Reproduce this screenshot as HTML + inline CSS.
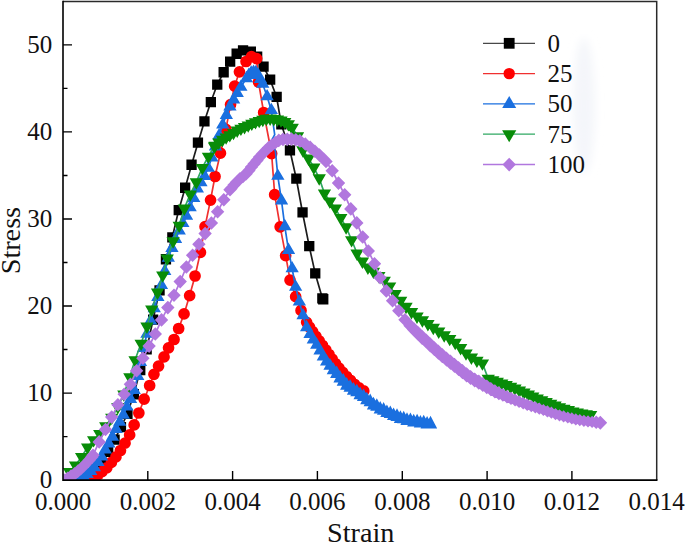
<!DOCTYPE html>
<html lang="en">
<head>
<meta charset="utf-8">
<title>Stress-Strain curves</title>
<style>
html,body{margin:0;padding:0;background:#fff;}
body{width:685px;height:546px;overflow:hidden;font-family:"Liberation Serif",serif;}
svg{display:block;}
</style>
</head>
<body>
<svg width="685" height="546" viewBox="0 0 685 546">
<rect width="685" height="546" fill="#fff"/>
<defs><filter id="b" x="-50%" y="-20%" width="200%" height="140%"><feGaussianBlur stdDeviation="4"/></filter></defs>
<ellipse cx="584" cy="106" rx="11" ry="68" fill="#f4f6fa" filter="url(#b)"/>
<clipPath id="c"><rect x="63" y="1.5" width="593.7" height="478.6"/></clipPath><g clip-path="url(#c)">
<path d="M63 480L69.4 479.7L75.9 478.9L82.4 476.8L88.9 473.7L95.3 469L101.7 462.7L108.2 451.9L114.6 439.6L121 427.1L127.4 413.8L133.8 394.3L140.3 370.1L146.7 349.2L153.1 319.5L159.5 290.5L165.9 259.3L172.3 237.3L178.7 210.2L185.2 187.7L191.6 164.7L198 142.7L204.4 121.4L210.8 102L217.3 84.5L223.7 72.2L230.1 61.7L236.6 53.8L243 50.5L250.8 51.8L257.2 56.8L263.5 66.5L270.1 79.6L276.6 97L281.3 124.3L289.9 150.3L296.3 178.7L302.5 212.5L309.2 246.2L315.2 273.4L322.4 298.3L323.2 299.2" fill="none" stroke="#1c1c1c" stroke-width="1.7" stroke-linejoin="round"/>
<path d="M57.9 474.9h10.3v10.3h-10.3zM64.3 474.5h10.3v10.3h-10.3zM70.8 473.7h10.3v10.3h-10.3zM77.3 471.7h10.3v10.3h-10.3zM83.8 468.6h10.3v10.3h-10.3zM90.2 463.9h10.3v10.3h-10.3zM96.6 457.5h10.3v10.3h-10.3zM103 446.8h10.3v10.3h-10.3zM109.4 434.4h10.3v10.3h-10.3zM115.8 422h10.3v10.3h-10.3zM122.3 408.7h10.3v10.3h-10.3zM128.7 389.1h10.3v10.3h-10.3zM135.1 365h10.3v10.3h-10.3zM141.5 344.1h10.3v10.3h-10.3zM148 314.4h10.3v10.3h-10.3zM154.4 285.3h10.3v10.3h-10.3zM160.8 254.1h10.3v10.3h-10.3zM167.2 232.2h10.3v10.3h-10.3zM173.6 205h10.3v10.3h-10.3zM180 182.6h10.3v10.3h-10.3zM186.4 159.6h10.3v10.3h-10.3zM192.8 137.5h10.3v10.3h-10.3zM199.3 116.2h10.3v10.3h-10.3zM205.7 96.9h10.3v10.3h-10.3zM212.1 79.4h10.3v10.3h-10.3zM218.5 67.1h10.3v10.3h-10.3zM225 56.5h10.3v10.3h-10.3zM231.5 48.6h10.3v10.3h-10.3zM237.9 45.3h10.3v10.3h-10.3zM245.7 46.6h10.3v10.3h-10.3zM252 51.6h10.3v10.3h-10.3zM258.4 61.4h10.3v10.3h-10.3zM265 74.4h10.3v10.3h-10.3zM271.5 91.8h10.3v10.3h-10.3zM276.2 119.1h10.3v10.3h-10.3zM284.8 145.2h10.3v10.3h-10.3zM291.2 173.5h10.3v10.3h-10.3zM297.4 207.3h10.3v10.3h-10.3zM304.1 241h10.3v10.3h-10.3zM310.1 268.2h10.3v10.3h-10.3zM317.2 293.2h10.3v10.3h-10.3zM318.1 294.1h10.3v10.3h-10.3z" fill="#000000"/>
<path d="M90 478.5L94.8 476.2L98.5 474.3L102.1 471.6L106.7 467.9L111.3 462.4L115.9 456.9L120.4 450.5L125 443.2L129.6 434.9L134.2 424.9L138.8 413L144.2 399.2L149.7 385.5L153.9 374.3L158.5 366.1L164 356.9L168.5 347.8L174 339.5L178.6 328.5L184.1 313.9L189.6 295.6L195.1 276L200.4 252.3L205 226.7L210.5 200.1L215 176.5L220.4 153.2L225.9 129.4L230.5 104.6L234.6 86.2L239.4 71.8L246 61.5L251.4 56.6L256.6 58.6L258.5 82L263.7 112.5L271.6 153.6L274.7 194.7L280.2 226.8L285.7 255.7L290.1 280.2L295.6 296.7L301.1 310.4L306.6 322.3L309.6 327.1L312.7 331.7L315.9 336.3L319.2 340.9L322.6 345.4L325.8 350L329.1 354.5L332.3 359.2L335.6 363.7L339 368.1L342.7 372.4L346.6 376.5L350.6 380.4L354.7 384.3L359 387.8L363.7 390.9" fill="none" stroke="#f03030" stroke-width="1.7" stroke-linejoin="round"/>
<path d="M84.2 478.5a5.8 5.8 0 1 0 11.7 0a5.8 5.8 0 1 0 -11.7 0zM89 476.2a5.8 5.8 0 1 0 11.7 0a5.8 5.8 0 1 0 -11.7 0zM92.7 474.3a5.8 5.8 0 1 0 11.7 0a5.8 5.8 0 1 0 -11.7 0zM96.2 471.6a5.8 5.8 0 1 0 11.7 0a5.8 5.8 0 1 0 -11.7 0zM100.9 467.9a5.8 5.8 0 1 0 11.7 0a5.8 5.8 0 1 0 -11.7 0zM105.5 462.4a5.8 5.8 0 1 0 11.7 0a5.8 5.8 0 1 0 -11.7 0zM110.1 456.9a5.8 5.8 0 1 0 11.7 0a5.8 5.8 0 1 0 -11.7 0zM114.6 450.5a5.8 5.8 0 1 0 11.7 0a5.8 5.8 0 1 0 -11.7 0zM119.2 443.2a5.8 5.8 0 1 0 11.7 0a5.8 5.8 0 1 0 -11.7 0zM123.8 434.9a5.8 5.8 0 1 0 11.7 0a5.8 5.8 0 1 0 -11.7 0zM128.3 424.9a5.8 5.8 0 1 0 11.7 0a5.8 5.8 0 1 0 -11.7 0zM133 413a5.8 5.8 0 1 0 11.7 0a5.8 5.8 0 1 0 -11.7 0zM138.3 399.2a5.8 5.8 0 1 0 11.7 0a5.8 5.8 0 1 0 -11.7 0zM143.8 385.5a5.8 5.8 0 1 0 11.7 0a5.8 5.8 0 1 0 -11.7 0zM148.1 374.3a5.8 5.8 0 1 0 11.7 0a5.8 5.8 0 1 0 -11.7 0zM152.7 366.1a5.8 5.8 0 1 0 11.7 0a5.8 5.8 0 1 0 -11.7 0zM158.2 356.9a5.8 5.8 0 1 0 11.7 0a5.8 5.8 0 1 0 -11.7 0zM162.7 347.8a5.8 5.8 0 1 0 11.7 0a5.8 5.8 0 1 0 -11.7 0zM168.2 339.5a5.8 5.8 0 1 0 11.7 0a5.8 5.8 0 1 0 -11.7 0zM172.8 328.5a5.8 5.8 0 1 0 11.7 0a5.8 5.8 0 1 0 -11.7 0zM178.2 313.9a5.8 5.8 0 1 0 11.7 0a5.8 5.8 0 1 0 -11.7 0zM183.8 295.6a5.8 5.8 0 1 0 11.7 0a5.8 5.8 0 1 0 -11.7 0zM189.2 276a5.8 5.8 0 1 0 11.7 0a5.8 5.8 0 1 0 -11.7 0zM194.6 252.3a5.8 5.8 0 1 0 11.7 0a5.8 5.8 0 1 0 -11.7 0zM199.2 226.7a5.8 5.8 0 1 0 11.7 0a5.8 5.8 0 1 0 -11.7 0zM204.7 200.1a5.8 5.8 0 1 0 11.7 0a5.8 5.8 0 1 0 -11.7 0zM209.2 176.5a5.8 5.8 0 1 0 11.7 0a5.8 5.8 0 1 0 -11.7 0zM214.6 153.2a5.8 5.8 0 1 0 11.7 0a5.8 5.8 0 1 0 -11.7 0zM220.1 129.4a5.8 5.8 0 1 0 11.7 0a5.8 5.8 0 1 0 -11.7 0zM224.7 104.6a5.8 5.8 0 1 0 11.7 0a5.8 5.8 0 1 0 -11.7 0zM228.8 86.2a5.8 5.8 0 1 0 11.7 0a5.8 5.8 0 1 0 -11.7 0zM233.6 71.8a5.8 5.8 0 1 0 11.7 0a5.8 5.8 0 1 0 -11.7 0zM240.2 61.5a5.8 5.8 0 1 0 11.7 0a5.8 5.8 0 1 0 -11.7 0zM245.6 56.6a5.8 5.8 0 1 0 11.7 0a5.8 5.8 0 1 0 -11.7 0zM250.8 58.6a5.8 5.8 0 1 0 11.7 0a5.8 5.8 0 1 0 -11.7 0zM252.7 82a5.8 5.8 0 1 0 11.7 0a5.8 5.8 0 1 0 -11.7 0zM257.8 112.5a5.8 5.8 0 1 0 11.7 0a5.8 5.8 0 1 0 -11.7 0zM265.8 153.6a5.8 5.8 0 1 0 11.7 0a5.8 5.8 0 1 0 -11.7 0zM268.8 194.7a5.8 5.8 0 1 0 11.7 0a5.8 5.8 0 1 0 -11.7 0zM274.3 226.8a5.8 5.8 0 1 0 11.7 0a5.8 5.8 0 1 0 -11.7 0zM279.8 255.7a5.8 5.8 0 1 0 11.7 0a5.8 5.8 0 1 0 -11.7 0zM284.2 280.2a5.8 5.8 0 1 0 11.7 0a5.8 5.8 0 1 0 -11.7 0zM289.8 296.7a5.8 5.8 0 1 0 11.7 0a5.8 5.8 0 1 0 -11.7 0zM295.2 310.4a5.8 5.8 0 1 0 11.7 0a5.8 5.8 0 1 0 -11.7 0zM300.8 322.3a5.8 5.8 0 1 0 11.7 0a5.8 5.8 0 1 0 -11.7 0zM303.7 327.1a5.8 5.8 0 1 0 11.7 0a5.8 5.8 0 1 0 -11.7 0zM306.8 331.7a5.8 5.8 0 1 0 11.7 0a5.8 5.8 0 1 0 -11.7 0zM310.1 336.3a5.8 5.8 0 1 0 11.7 0a5.8 5.8 0 1 0 -11.7 0zM313.4 340.9a5.8 5.8 0 1 0 11.7 0a5.8 5.8 0 1 0 -11.7 0zM316.7 345.4a5.8 5.8 0 1 0 11.7 0a5.8 5.8 0 1 0 -11.7 0zM320 350a5.8 5.8 0 1 0 11.7 0a5.8 5.8 0 1 0 -11.7 0zM323.2 354.5a5.8 5.8 0 1 0 11.7 0a5.8 5.8 0 1 0 -11.7 0zM326.4 359.2a5.8 5.8 0 1 0 11.7 0a5.8 5.8 0 1 0 -11.7 0zM329.7 363.7a5.8 5.8 0 1 0 11.7 0a5.8 5.8 0 1 0 -11.7 0zM333.2 368.1a5.8 5.8 0 1 0 11.7 0a5.8 5.8 0 1 0 -11.7 0zM336.9 372.4a5.8 5.8 0 1 0 11.7 0a5.8 5.8 0 1 0 -11.7 0zM340.7 376.5a5.8 5.8 0 1 0 11.7 0a5.8 5.8 0 1 0 -11.7 0zM344.7 380.4a5.8 5.8 0 1 0 11.7 0a5.8 5.8 0 1 0 -11.7 0zM348.8 384.3a5.8 5.8 0 1 0 11.7 0a5.8 5.8 0 1 0 -11.7 0zM353.2 387.8a5.8 5.8 0 1 0 11.7 0a5.8 5.8 0 1 0 -11.7 0zM357.9 390.9a5.8 5.8 0 1 0 11.7 0a5.8 5.8 0 1 0 -11.7 0z" fill="#ff0000"/>
<path d="M76 479.3L79.7 477.8L83.4 476.4L87 474.3L90.7 471.1L94.3 467.4L97.9 462.3L101.5 456.8L105.2 449.8L108.8 443.7L112.4 436.9L116.1 429.2L119.7 422L123.3 414.9L126.9 406.6L130.5 399.1L134.2 390.3L137.7 376.2L140.4 362.1L143.5 348.1L146.9 334L150.6 320.6L154.2 308.4L157.8 297.1L161.4 285.3L164.7 271.2L168.3 257.9L171.9 248.1L175.5 239.2L179.2 230.8L182.8 223.3L186.5 216L190.1 207.5L193.7 198.3L197.3 188.6L200.9 182.4L204.6 176.1L208.2 168L211.8 157.7L215.4 146.7L219.1 135.5L222.7 124.8L226.3 115.1L229.9 106.6L233.6 99.6L237.2 93.1L240.8 87L246.4 78.4L248.8 75.2L251.2 72.8L253.5 72.2L255.9 72.4L258.2 75.2L260.4 79.3L262.7 84L267.1 96.5L271.3 110.3L274.7 134.7L270.3 143L275.4 150.8L277.8 176L281.5 200.7L284.8 226.4L288.5 250.2L292.1 268.5L295.6 287L299.3 301.8L303 315.5L306.6 327.4L310 334.1L313.3 339.7L316.7 344.9L320 350.7L323.3 356.6L326.6 361.6L330 365.8L333.3 370.3L336.7 373.9L340 378.4L343.3 381.5L346.7 385.5L350.1 387.5L353.5 390.5L356.8 392.1L360.1 395L363.5 396.8L366.8 400.1L370.2 402L373.5 405.2L376.8 406.6L380.2 409.3L383.6 410.5L386.9 412.9L390.3 413.8L393.6 415.9L397 416.7L400.4 418.7L403.7 419.1L407 420.7L410.4 420.8L413.7 422.2L417.1 422.1L420.4 423.4L423.7 423.1L427.1 424.3L430.5 424.2" fill="none" stroke="#1a6fdf" stroke-width="1.7" stroke-linejoin="round"/>
<path d="M76 471.7l6.7 11.4h-13.3zM79.7 470.2l6.7 11.4h-13.3zM83.4 468.8l6.7 11.4h-13.3zM87 466.7l6.7 11.4h-13.3zM90.7 463.5l6.7 11.4h-13.3zM94.3 459.8l6.7 11.4h-13.3zM97.9 454.7l6.7 11.4h-13.3zM101.5 449.2l6.7 11.4h-13.3zM105.2 442.2l6.7 11.4h-13.3zM108.8 436.1l6.7 11.4h-13.3zM112.4 429.3l6.7 11.4h-13.3zM116.1 421.6l6.7 11.4h-13.3zM119.7 414.4l6.7 11.4h-13.3zM123.3 407.3l6.7 11.4h-13.3zM126.9 399l6.7 11.4h-13.3zM130.5 391.5l6.7 11.4h-13.3zM134.2 382.7l6.7 11.4h-13.3zM137.7 368.6l6.7 11.4h-13.3zM140.4 354.5l6.7 11.4h-13.3zM143.5 340.5l6.7 11.4h-13.3zM146.9 326.4l6.7 11.4h-13.3zM150.6 313l6.7 11.4h-13.3zM154.2 300.8l6.7 11.4h-13.3zM157.8 289.5l6.7 11.4h-13.3zM161.4 277.7l6.7 11.4h-13.3zM164.7 263.6l6.7 11.4h-13.3zM168.3 250.3l6.7 11.4h-13.3zM171.9 240.5l6.7 11.4h-13.3zM175.5 231.6l6.7 11.4h-13.3zM179.2 223.2l6.7 11.4h-13.3zM182.8 215.7l6.7 11.4h-13.3zM186.5 208.4l6.7 11.4h-13.3zM190.1 199.9l6.7 11.4h-13.3zM193.7 190.7l6.7 11.4h-13.3zM197.3 181l6.7 11.4h-13.3zM200.9 174.8l6.7 11.4h-13.3zM204.6 168.5l6.7 11.4h-13.3zM208.2 160.4l6.7 11.4h-13.3zM211.8 150.1l6.7 11.4h-13.3zM215.4 139.1l6.7 11.4h-13.3zM219.1 127.9l6.7 11.4h-13.3zM222.7 117.2l6.7 11.4h-13.3zM226.3 107.5l6.7 11.4h-13.3zM229.9 99l6.7 11.4h-13.3zM233.6 92l6.7 11.4h-13.3zM237.2 85.5l6.7 11.4h-13.3zM240.8 79.4l6.7 11.4h-13.3zM246.4 70.8l6.7 11.4h-13.3zM248.8 67.6l6.7 11.4h-13.3zM251.2 65.2l6.7 11.4h-13.3zM253.5 64.6l6.7 11.4h-13.3zM255.9 64.8l6.7 11.4h-13.3zM258.2 67.6l6.7 11.4h-13.3zM260.4 71.7l6.7 11.4h-13.3zM262.7 76.4l6.7 11.4h-13.3zM267.1 88.9l6.7 11.4h-13.3zM271.3 102.7l6.7 11.4h-13.3zM277.8 168.4l6.7 11.4h-13.3zM281.5 193.1l6.7 11.4h-13.3zM284.8 218.8l6.7 11.4h-13.3zM288.5 242.6l6.7 11.4h-13.3zM292.1 260.9l6.7 11.4h-13.3zM295.6 279.4l6.7 11.4h-13.3zM299.3 294.2l6.7 11.4h-13.3zM303 307.9l6.7 11.4h-13.3zM306.6 319.8l6.7 11.4h-13.3zM310 326.5l6.7 11.4h-13.3zM313.3 332.1l6.7 11.4h-13.3zM316.7 337.3l6.7 11.4h-13.3zM320 343.1l6.7 11.4h-13.3zM323.3 349l6.7 11.4h-13.3zM326.6 353.9l6.7 11.5h-13.3zM330 357.9l6.7 11.8h-13.3zM333.3 362.2l6.7 12.1h-13.3zM336.7 365.6l6.7 12.3h-13.3zM340 370l6.7 12.6h-13.3zM343.3 373.1l6.7 12.6h-13.3zM346.7 377.1l6.7 12.6h-13.3zM350.1 379.1l6.7 12.6h-13.3zM353.5 382.1l6.7 12.6h-13.3zM356.8 383.7l6.7 12.6h-13.3zM360.1 386.6l6.7 12.6h-13.3zM363.5 388.4l6.7 12.6h-13.3zM366.8 391.7l6.7 12.6h-13.3zM370.2 393.6l6.7 12.6h-13.3zM373.5 396.8l6.7 12.6h-13.3zM376.8 398.2l6.7 12.6h-13.3zM380.2 400.9l6.7 12.6h-13.3zM383.6 402.1l6.7 12.6h-13.3zM386.9 404.5l6.7 12.6h-13.3zM390.3 405.4l6.7 12.6h-13.3zM393.6 407.5l6.7 12.6h-13.3zM397 408.3l6.7 12.6h-13.3zM400.4 410.3l6.7 12.6h-13.3zM403.7 410.7l6.7 12.6h-13.3zM407 412.3l6.7 12.6h-13.3zM410.4 412.4l6.7 12.6h-13.3zM413.7 413.8l6.7 12.6h-13.3zM417.1 413.7l6.7 12.6h-13.3zM420.4 415l6.7 12.6h-13.3zM423.7 414.7l6.7 12.6h-13.3zM427.1 415.9l6.7 12.6h-13.3zM430.5 415.8l6.7 12.6h-13.3z" fill="#1a6fdf"/>
<path d="M63.5 478.5L69.5 471.8L75.5 465.3L81.6 456.7L87.6 447.3L93.6 440L99.7 433.9L105.7 426.1L111.7 417.5L117.8 406.8L123.8 394.2L129.8 377.1L135 360L141.1 343.5L146.9 326.4L151.7 309.3L157.5 292.3L162.7 275.2L167.2 258.2L173.1 241.1L179.2 225.5L184.3 208.4L190.3 194.2L196.3 182.1L202.3 167.7L208.4 156.5L214.4 146.3L215.1 145.6L218.8 142.3L222.5 139.6L226.1 137.2L229.8 135L233.5 132.7L237.2 130.3L240.9 128.5L244.5 126.9L248.2 125.2L251.8 123.5L255.5 122L259.2 120.7L262.8 119.6L266.4 118.6L270.1 118.4L273.8 118.8L277.4 119.4L281 120.2L284.7 121.7L288.3 124L292 127.6L292.1 127.7L297.5 136L302.9 150.1L308.4 158.3L313.8 167.3L319.2 178.1L324.4 193.2L329.8 201.2L335.3 208.2L340.7 217.8L346.1 227.1L351.6 240L357 253.3L362.4 261.4L367.9 267.3L373.4 271.5L378.8 275.8L384.2 280.5L389.6 286.2L395.1 293.8L400.6 300.6L406 306.6L411.5 311.8L417 316.3L422.4 320.1L427.9 323.8L433.3 327.6L438.7 331.4L444.2 335.1L449.7 338.7L455.2 342.6L460.6 347.8L466 353.2L471.4 357.3L476.9 360.5L482.4 363.2L488.2 378.6L492.7 380.1L497.2 381.6L501.7 383.2L506.1 384.9L510.5 386.6L514.9 388.4L519.4 390.3L523.9 392.3L528.3 394.3L532.7 396.3L537.2 398.2L541.7 400L546.1 401.8L550.6 403.5L555 405.3L559.4 407L563.9 408.5L568.3 409.9L572.8 411.2L577.2 412.3L581.7 413.3L586.2 414.1L590.6 414.7" fill="none" stroke="#2fa862" stroke-width="1.7" stroke-linejoin="round"/>
<path d="M63.5 486.1l6.7 -11.4h-13.3zM69.5 479.4l6.7 -11.4h-13.3zM75.5 472.9l6.7 -11.4h-13.3zM81.6 464.3l6.7 -11.4h-13.3zM87.6 454.9l6.7 -11.4h-13.3zM93.6 447.6l6.7 -11.4h-13.3zM99.7 441.5l6.7 -11.4h-13.3zM105.7 433.7l6.7 -11.4h-13.3zM111.7 425.1l6.7 -11.4h-13.3zM117.8 414.4l6.7 -11.4h-13.3zM123.8 401.8l6.7 -11.4h-13.3zM129.8 384.7l6.7 -11.4h-13.3zM135 367.6l6.7 -11.4h-13.3zM141.1 351.1l6.7 -11.4h-13.3zM146.9 334l6.7 -11.4h-13.3zM151.7 316.9l6.7 -11.4h-13.3zM157.5 299.9l6.7 -11.4h-13.3zM162.7 282.8l6.7 -11.4h-13.3zM167.2 265.8l6.7 -11.4h-13.3zM173.1 248.7l6.7 -11.4h-13.3zM179.2 233.1l6.7 -11.4h-13.3zM184.3 216l6.7 -11.4h-13.3zM190.3 201.8l6.7 -11.4h-13.3zM196.3 189.7l6.7 -11.4h-13.3zM202.3 175.3l6.7 -11.4h-13.3zM208.4 164.1l6.7 -11.4h-13.3zM214.4 153.9l6.7 -11.4h-13.3zM215.1 153.2l6.7 -11.4h-13.3zM218.8 149.9l6.7 -11.4h-13.3zM222.5 147.2l6.7 -11.4h-13.3zM226.1 144.8l6.7 -11.4h-13.3zM229.8 142.6l6.7 -11.4h-13.3zM233.5 140.3l6.7 -11.4h-13.3zM237.2 137.9l6.7 -11.4h-13.3zM240.9 136.1l6.7 -11.4h-13.3zM244.5 134.5l6.7 -11.4h-13.3zM248.2 132.8l6.7 -11.4h-13.3zM251.8 131.1l6.7 -11.4h-13.3zM255.5 129.6l6.7 -11.4h-13.3zM259.2 128.3l6.7 -11.4h-13.3zM262.8 127.2l6.7 -11.4h-13.3zM266.4 126.2l6.7 -11.4h-13.3zM270.1 126l6.7 -11.4h-13.3zM273.8 126.4l6.7 -11.4h-13.3zM277.4 127l6.7 -11.4h-13.3zM281 127.8l6.7 -11.4h-13.3zM284.7 129.3l6.7 -11.4h-13.3zM288.3 131.6l6.7 -11.4h-13.3zM292 135.2l6.7 -11.4h-13.3zM292.1 135.3l6.7 -11.4h-13.3zM297.5 143.6l6.7 -11.4h-13.3zM302.9 157.7l6.7 -11.4h-13.3zM308.4 165.9l6.7 -11.4h-13.3zM313.8 174.9l6.7 -11.4h-13.3zM319.2 185.7l6.7 -11.4h-13.3zM324.4 200.8l6.7 -11.4h-13.3zM329.8 208.8l6.7 -11.4h-13.3zM335.3 215.8l6.7 -11.4h-13.3zM340.7 225.4l6.7 -11.4h-13.3zM346.1 234.7l6.7 -11.4h-13.3zM351.6 247.6l6.7 -11.4h-13.3zM357 260.9l6.7 -11.4h-13.3zM362.4 269l6.7 -11.4h-13.3zM367.9 274.9l6.7 -11.4h-13.3zM373.4 279.1l6.7 -11.4h-13.3zM378.8 283.4l6.7 -11.4h-13.3zM384.2 288.1l6.7 -11.4h-13.3zM389.6 293.8l6.7 -11.4h-13.3zM395.1 301.4l6.7 -11.4h-13.3zM400.6 308.2l6.7 -11.4h-13.3zM406 314.2l6.7 -11.4h-13.3zM411.5 319.4l6.7 -11.4h-13.3zM417 323.9l6.7 -11.4h-13.3zM422.4 327.7l6.7 -11.4h-13.3zM427.9 331.4l6.7 -11.4h-13.3zM433.3 335.2l6.7 -11.4h-13.3zM438.7 339l6.7 -11.4h-13.3zM444.2 342.7l6.7 -11.4h-13.3zM449.7 346.3l6.7 -11.4h-13.3zM455.2 350.2l6.7 -11.4h-13.3zM460.6 355.4l6.7 -11.4h-13.3zM466 360.8l6.7 -11.4h-13.3zM471.4 364.9l6.7 -11.4h-13.3zM476.9 368.1l6.7 -11.4h-13.3zM482.4 370.8l6.7 -11.4h-13.3zM488.2 386.2l6.7 -11.4h-13.3zM492.7 387.7l6.7 -11.4h-13.3zM497.2 389.2l6.7 -11.4h-13.3zM501.7 390.8l6.7 -11.4h-13.3zM506.1 392.5l6.7 -11.4h-13.3zM510.5 394.2l6.7 -11.4h-13.3zM514.9 396l6.7 -11.4h-13.3zM519.4 397.9l6.7 -11.4h-13.3zM523.9 399.9l6.7 -11.4h-13.3zM528.3 401.9l6.7 -11.4h-13.3zM532.7 403.9l6.7 -11.4h-13.3zM537.2 405.8l6.7 -11.4h-13.3zM541.7 407.6l6.7 -11.4h-13.3zM546.1 409.4l6.7 -11.4h-13.3zM550.6 411.1l6.7 -11.4h-13.3zM555 412.9l6.7 -11.4h-13.3zM559.4 414.6l6.7 -11.4h-13.3zM563.9 416.1l6.7 -11.4h-13.3zM568.3 417.5l6.7 -11.4h-13.3zM572.8 418.8l6.7 -11.4h-13.3zM577.2 419.9l6.7 -11.4h-13.3zM581.7 420.9l6.7 -11.4h-13.3zM586.2 421.7l6.7 -11.4h-13.3zM590.6 422.3l6.7 -11.4h-13.3z" fill="#088c08"/>
<path d="M64 480L67.7 478.1L71.1 476.1L74.6 473.8L77.8 471.3L80.8 468.6L83.7 465.8L86.5 463L89.3 460L91.9 456.9L93 455.2L99.2 441.9L105.5 429.5L111.7 417.1L117.9 404.8L124.2 394.3L130.4 384.2L136.6 370.7L142.9 358.3L149.1 346L155.3 333.9L161.5 319.8L167.8 307.6L174 295.2L180.2 281.6L186.4 267L192.6 255.1L198.9 244.3L205.1 233.6L211.4 222.9L217.6 211.8L223.8 199.6L230 189.7L231.1 188.5L233.8 185.2L236.7 182.1L239.7 179.1L243 176.4L246.2 173.6L248.9 170.4L251.5 167L254.2 163.7L256.9 160.4L259.6 157.1L262.4 153.9L265.3 150.8L268.4 147.9L271.7 145.2L275.2 142.6L278.8 140.4L283 139.4L287.3 139.1L291.5 139L295.8 139.7L299.9 140.9L300.1 141L305.3 143.9L310.2 147.4L314.9 151.1L319.5 155L323.9 159.1L326 161.4L332.2 170.6L338.5 183L344.7 194.7L350.8 208.8L356.8 222.8L362.7 236.9L368.3 250.9L374.5 263.6L380.1 277.7L386.3 290.9L392.6 300.7L398.8 310.7L405 319.8L410.1 325.5L414.1 329.6L418.1 333.5L422.1 337.3L426.2 341L430.2 344.8L434.2 348.5L438.3 352.2L442.3 355.8L446.4 359.1L450.4 362.2L454.5 365.4L458.5 368.6L462.5 371.8L466.6 374.9L470.6 377.5L474.7 380L478.8 382.3L482.8 384.5L486.8 386.8L490.8 389.1L494.9 391.3L498.9 393.3L502.9 395L507 396.7L511 398.4L515.1 400.1L519.1 401.7L523.2 403.3L527.2 404.7L531.3 406L535.3 407.3L539.3 408.7L543.4 410L547.4 411.4L551.4 412.7L555.5 414L559.5 415.2L563.6 416.4L567.8 417.4L571.8 418.4L575.8 419.3L579.8 420.1L583.9 420.8L588 421.4L592.1 421.9L596.2 422.3L600.3 422.7" fill="none" stroke="#b177de" stroke-width="1.7" stroke-linejoin="round"/>
<path d="M64 473.2l6.7 6.8l-6.7 6.8l-6.7 -6.8zM67.7 471.4l6.7 6.8l-6.7 6.8l-6.7 -6.8zM71.1 469.3l6.7 6.8l-6.7 6.8l-6.7 -6.8zM74.6 467.1l6.7 6.8l-6.7 6.8l-6.7 -6.8zM77.8 464.5l6.7 6.8l-6.7 6.8l-6.7 -6.8zM80.8 461.9l6.7 6.8l-6.7 6.8l-6.7 -6.8zM83.7 459.1l6.7 6.8l-6.7 6.8l-6.7 -6.8zM86.5 456.2l6.7 6.8l-6.7 6.8l-6.7 -6.8zM89.3 453.3l6.7 6.8l-6.7 6.8l-6.7 -6.8zM91.9 450.1l6.7 6.8l-6.7 6.8l-6.7 -6.8zM93 448.5l6.7 6.8l-6.7 6.8l-6.7 -6.8zM99.2 435.1l6.7 6.8l-6.7 6.8l-6.7 -6.8zM105.5 422.7l6.7 6.8l-6.7 6.8l-6.7 -6.8zM111.7 410.3l6.7 6.8l-6.7 6.8l-6.7 -6.8zM117.9 398l6.7 6.8l-6.7 6.8l-6.7 -6.8zM124.2 387.5l6.7 6.8l-6.7 6.8l-6.7 -6.8zM130.4 377.4l6.7 6.8l-6.7 6.8l-6.7 -6.8zM136.6 363.9l6.7 6.8l-6.7 6.8l-6.7 -6.8zM142.9 351.5l6.7 6.8l-6.7 6.8l-6.7 -6.8zM149.1 339.3l6.7 6.8l-6.7 6.8l-6.7 -6.8zM155.3 327.2l6.7 6.8l-6.7 6.8l-6.7 -6.8zM161.5 313.1l6.7 6.8l-6.7 6.8l-6.7 -6.8zM167.8 300.8l6.7 6.8l-6.7 6.8l-6.7 -6.8zM174 288.4l6.7 6.8l-6.7 6.8l-6.7 -6.8zM180.2 274.8l6.7 6.8l-6.7 6.8l-6.7 -6.8zM186.4 260.2l6.7 6.8l-6.7 6.8l-6.7 -6.8zM192.6 248.4l6.7 6.8l-6.7 6.8l-6.7 -6.8zM198.9 237.5l6.7 6.8l-6.7 6.8l-6.7 -6.8zM205.1 226.8l6.7 6.8l-6.7 6.8l-6.7 -6.8zM211.4 216.2l6.7 6.8l-6.7 6.8l-6.7 -6.8zM217.6 205l6.7 6.8l-6.7 6.8l-6.7 -6.8zM223.8 192.9l6.7 6.8l-6.7 6.8l-6.7 -6.8zM230 183l6.7 6.8l-6.7 6.8l-6.7 -6.8zM231.1 181.7l6.7 6.8l-6.7 6.8l-6.7 -6.8zM233.8 178.5l6.7 6.8l-6.7 6.8l-6.7 -6.8zM236.7 175.3l6.7 6.8l-6.7 6.8l-6.7 -6.8zM239.7 172.3l6.7 6.8l-6.7 6.8l-6.7 -6.8zM243 169.7l6.7 6.8l-6.7 6.8l-6.7 -6.8zM246.2 166.9l6.7 6.8l-6.7 6.8l-6.7 -6.8zM248.9 163.7l6.7 6.8l-6.7 6.8l-6.7 -6.8zM251.5 160.3l6.7 6.8l-6.7 6.8l-6.7 -6.8zM254.2 156.9l6.7 6.8l-6.7 6.8l-6.7 -6.8zM256.9 153.6l6.7 6.8l-6.7 6.8l-6.7 -6.8zM259.6 150.3l6.7 6.8l-6.7 6.8l-6.7 -6.8zM262.4 147.1l6.7 6.8l-6.7 6.8l-6.7 -6.8zM265.3 144.1l6.7 6.8l-6.7 6.8l-6.7 -6.8zM268.4 141.1l6.7 6.8l-6.7 6.8l-6.7 -6.8zM271.7 138.5l6.7 6.8l-6.7 6.8l-6.7 -6.8zM275.2 135.9l6.7 6.8l-6.7 6.8l-6.7 -6.8zM278.8 133.6l6.7 6.8l-6.7 6.8l-6.7 -6.8zM283 132.6l6.7 6.8l-6.7 6.8l-6.7 -6.8zM287.3 132.4l6.7 6.8l-6.7 6.8l-6.7 -6.8zM291.5 132.3l6.7 6.8l-6.7 6.8l-6.7 -6.8zM295.8 133l6.7 6.8l-6.7 6.8l-6.7 -6.8zM299.9 134.1l6.7 6.8l-6.7 6.8l-6.7 -6.8zM300.1 134.2l6.7 6.8l-6.7 6.8l-6.7 -6.8zM305.3 137.2l6.7 6.8l-6.7 6.8l-6.7 -6.8zM310.2 140.6l6.7 6.8l-6.7 6.8l-6.7 -6.8zM314.9 144.4l6.7 6.8l-6.7 6.8l-6.7 -6.8zM319.5 148.3l6.7 6.8l-6.7 6.8l-6.7 -6.8zM323.9 152.4l6.7 6.8l-6.7 6.8l-6.7 -6.8zM326 154.7l6.7 6.8l-6.7 6.8l-6.7 -6.8zM332.2 163.9l6.7 6.8l-6.7 6.8l-6.7 -6.8zM338.5 176.3l6.7 6.8l-6.7 6.8l-6.7 -6.8zM344.7 188l6.7 6.8l-6.7 6.8l-6.7 -6.8zM350.8 202.1l6.7 6.8l-6.7 6.8l-6.7 -6.8zM356.8 216.1l6.7 6.8l-6.7 6.8l-6.7 -6.8zM362.7 230.2l6.7 6.8l-6.7 6.8l-6.7 -6.8zM368.3 244.2l6.7 6.8l-6.7 6.8l-6.7 -6.8zM374.5 256.9l6.7 6.8l-6.7 6.8l-6.7 -6.8zM380.1 270.9l6.7 6.8l-6.7 6.8l-6.7 -6.8zM386.3 284.1l6.7 6.8l-6.7 6.8l-6.7 -6.8zM392.6 294l6.7 6.8l-6.7 6.8l-6.7 -6.8zM398.8 303.9l6.7 6.8l-6.7 6.8l-6.7 -6.8zM405 313l6.7 6.8l-6.7 6.8l-6.7 -6.8zM410.1 318.4l6.9 7l-6.9 7l-6.9 -7zM414.1 322.3l7.2 7.3l-7.2 7.3l-7.2 -7.3zM418.1 326l7.4 7.5l-7.4 7.5l-7.4 -7.5zM422.1 329.7l7.5 7.6l-7.5 7.6l-7.5 -7.6zM426.2 333.4l7.5 7.6l-7.5 7.6l-7.5 -7.6zM430.2 337.2l7.5 7.6l-7.5 7.6l-7.5 -7.6zM434.2 340.9l7.5 7.6l-7.5 7.6l-7.5 -7.6zM438.3 344.6l7.5 7.6l-7.5 7.6l-7.5 -7.6zM442.3 348.1l7.5 7.6l-7.5 7.6l-7.5 -7.6zM446.4 351.4l7.5 7.6l-7.5 7.6l-7.5 -7.6zM450.4 354.6l7.5 7.6l-7.5 7.6l-7.5 -7.6zM454.5 357.7l7.5 7.6l-7.5 7.6l-7.5 -7.6zM458.5 360.9l7.5 7.6l-7.5 7.6l-7.5 -7.6zM462.5 364.1l7.5 7.6l-7.5 7.6l-7.5 -7.6zM466.6 367.2l7.5 7.6l-7.5 7.6l-7.5 -7.6zM470.6 369.9l7.5 7.6l-7.5 7.6l-7.5 -7.6zM474.7 372.4l7.5 7.6l-7.5 7.6l-7.5 -7.6zM478.8 374.6l7.5 7.6l-7.5 7.6l-7.5 -7.6zM482.8 377l7.4 7.5l-7.4 7.5l-7.4 -7.5zM486.8 379.4l7.3 7.4l-7.3 7.4l-7.3 -7.4zM490.8 381.9l7.1 7.2l-7.1 7.2l-7.1 -7.2zM494.9 384.2l7 7.1l-7 7.1l-7 -7.1zM498.9 386.3l6.9 7l-6.9 7l-6.9 -7zM502.9 388.2l6.7 6.8l-6.7 6.8l-6.7 -6.8zM507 390l6.6 6.7l-6.6 6.7l-6.6 -6.7zM511 391.8l6.5 6.6l-6.5 6.6l-6.5 -6.6zM515.1 393.5l6.4 6.5l-6.4 6.5l-6.4 -6.5zM519.1 395.3l6.3 6.4l-6.3 6.4l-6.3 -6.4zM523.2 396.9l6.2 6.3l-6.2 6.3l-6.2 -6.3zM527.2 398.4l6.2 6.3l-6.2 6.3l-6.2 -6.3zM531.3 399.9l6.1 6.2l-6.1 6.2l-6.1 -6.2zM535.3 401.2l6 6.1l-6 6.1l-6 -6.1zM539.3 402.6l6 6.1l-6 6.1l-6 -6.1zM543.4 403.9l6 6.1l-6 6.1l-6 -6.1zM547.4 405.3l6 6.1l-6 6.1l-6 -6.1zM551.4 406.6l6 6.1l-6 6.1l-6 -6.1zM555.5 408l6 6.1l-6 6.1l-6 -6.1zM559.5 409.2l6 6.1l-6 6.1l-6 -6.1zM563.6 410.3l6 6.1l-6 6.1l-6 -6.1zM567.8 411.4l6 6.1l-6 6.1l-6 -6.1zM571.8 412.3l6 6.1l-6 6.1l-6 -6.1zM575.8 413.3l6 6.1l-6 6.1l-6 -6.1zM579.8 414l6 6.1l-6 6.1l-6 -6.1zM583.9 414.7l6 6.1l-6 6.1l-6 -6.1zM588 415.3l6 6.1l-6 6.1l-6 -6.1zM592.1 415.8l6 6.1l-6 6.1l-6 -6.1zM596.2 415.6l6.6 6.7l-6.6 6.7l-6.6 -6.7zM600.3 415.7l6.9 7l-6.9 7l-6.9 -7z" fill="#b177de"/>
</g>
<path d="M63 1.5H656.7V480.1" fill="none" stroke="#2a2a2a" stroke-width="1.5"/>
<path d="M63 1.5V480.1H656.7" fill="none" stroke="#000" stroke-width="1.6" stroke-linecap="square"/>
<path d="M147.8 480.1v-9M232.6 480.1v-9M317.4 480.1v-9M402.3 480.1v-9M487.1 480.1v-9M571.9 480.1v-9M63 436.6h4.5M63 393.1h9M63 349.5h4.5M63 306h9M63 262.5h4.5M63 219h9M63 175.5h4.5M63 131.9h9M63 88.4h4.5M63 44.9h9" fill="none" stroke="#000" stroke-width="1.4"/>
<g font-family="'Liberation Serif', serif" font-size="25" fill="#111">
<text x="63" y="509.6" text-anchor="middle">0.000</text>
<text x="147.8" y="509.6" text-anchor="middle">0.002</text>
<text x="232.6" y="509.6" text-anchor="middle">0.004</text>
<text x="317.4" y="509.6" text-anchor="middle">0.006</text>
<text x="402.3" y="509.6" text-anchor="middle">0.008</text>
<text x="487.1" y="509.6" text-anchor="middle">0.010</text>
<text x="571.9" y="509.6" text-anchor="middle">0.012</text>
<text x="656.7" y="509.6" text-anchor="middle">0.014</text>
<text x="52.2" y="488.3" text-anchor="end">0</text>
<text x="52.2" y="401.3" text-anchor="end">10</text>
<text x="52.2" y="314.2" text-anchor="end">20</text>
<text x="52.2" y="227.2" text-anchor="end">30</text>
<text x="52.2" y="140.1" text-anchor="end">40</text>
<text x="52.2" y="53.1" text-anchor="end">50</text>
<text x="547.5" y="51.7">0</text>
<text x="547.5" y="82">25</text>
<text x="547.5" y="112.3">50</text>
<text x="547.5" y="142.6">75</text>
<text x="547.5" y="172.9">100</text>
</g>
<g font-family="'Liberation Serif', serif" font-size="28.2" fill="#111">
<text x="360.7" y="541.6" text-anchor="middle">Strain</text>
<text transform="translate(19.6 240.6) rotate(-90)" text-anchor="middle">Stress</text>
</g>
<path d="M483 43.3H535" stroke="#484848" stroke-width="1.3"/>
<path d="M503.8 37.9h10.8v10.8h-10.8z" fill="#000000"/>
<path d="M483 73.6H535" stroke="#f03030" stroke-width="1.3"/>
<path d="M503.5 73.6a5.7 5.7 0 1 0 11.4 0a5.7 5.7 0 1 0 -11.4 0z" fill="#ff0000"/>
<path d="M483 103.9H535" stroke="#1a6fdf" stroke-width="1.3"/>
<path d="M509.2 95.9l7 12h-14z" fill="#1a6fdf"/>
<path d="M483 134.2H535" stroke="#2fa862" stroke-width="1.3"/>
<path d="M509.2 142.2l7.1 -12h-14.2z" fill="#088c08"/>
<path d="M483 164.5H535" stroke="#b177de" stroke-width="1.3"/>
<path d="M509.2 157.8l6.7 6.8l-6.7 6.8l-6.7 -6.8z" fill="#b177de"/>
</svg>
</body>
</html>
